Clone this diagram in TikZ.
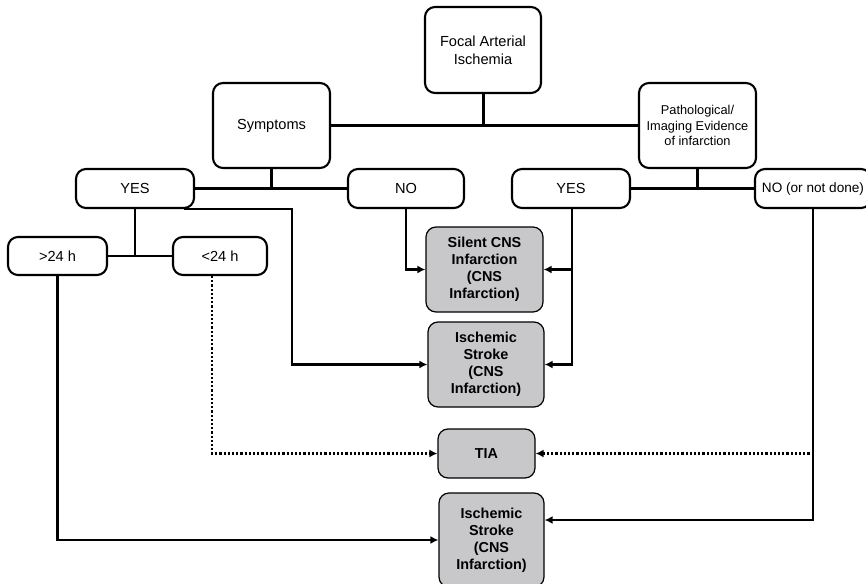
\documentclass[tikz,border=0pt]{standalone}
\usepackage{fontspec}
\setmainfont{Liberation Sans}
\usetikzlibrary{arrows.meta}
\definecolor{boxgrey}{RGB}{200,200,202}
\tikzset{
  box/.style={draw, line width=2.1pt, rounded corners=10pt, align=center,
    inner sep=0pt, font=\fontsize{14.6}{18}\selectfont},
  small box/.style={box, minimum width=118pt, minimum height=39pt},
  result/.style={box, fill=boxgrey, line width=1.2pt,
    font=\bfseries\fontsize{14.4}{17}\selectfont},
  link/.style={line width=2.2pt},
  arr/.style={link, -{Latex[length=8pt,width=8pt]}},
  dotarr/.style={line width=2.5pt, dash pattern=on 2.2pt off 2pt,
    -{Latex[length=8pt,width=8pt]}}
}
\begin{document}
\begin{tikzpicture}[x=1pt,y=-1pt]
  \clip (0,0) rectangle (866,583);
  % top levels
  \node[box, minimum width=116pt, minimum height=86pt] (focal) at (483,50) {Focal Arterial\\Ischemia};
  \node[box, minimum width=117pt, minimum height=85pt] (symptoms) at (271.5,125.5) {Symptoms};
  \node[box, minimum width=117pt, minimum height=85pt,
    font=\fontsize{12.8}{15.5}\selectfont] (patho) at (697.5,125.5) {Pathological/\\Imaging Evidence\\of infarction};
  \node[small box] (yesL) at (135,188.5) {YES};
  \node[small box, minimum width=116pt] (noL) at (406,188.5) {NO};
  \node[small box] (yesR) at (571,188.5) {YES};
  \node[small box, minimum width=116pt, font=\fontsize{13.6}{18}\selectfont] (noR) at (813,188.5) {NO (or not done)};
  \node[box, minimum width=99pt, minimum height=38pt] (gt24) at (57.5,256) {>24 h};
  \node[box, minimum width=94pt, minimum height=38pt] (lt24) at (220,256) {<24 h};
  % outcomes
  \node[result, minimum width=117pt, minimum height=85pt] (silent) at (484.5,269.5) {Silent CNS\\Infarction\\(CNS\\Infarction)};
  \node[result, minimum width=116pt, minimum height=85pt] (stroke1) at (486,364.5) {Ischemic\\Stroke\\(CNS\\Infarction)};
  \node[result, minimum width=97pt, minimum height=49pt] (tia) at (486.5,453.5) {TIA};
  \node[result, minimum width=105pt, minimum height=94pt] (stroke2) at (491.5,540) {Ischemic\\Stroke\\(CNS\\Infarction)};
  \coordinate (turnA) at (292,364.5);

  \draw[line width=3pt] (symptoms.east) -- (patho.west);
  \draw[line width=3pt] (focal.south) -- (focal.south |- symptoms.east);
  \draw[link] (yesL.east) -- (noL.west);
  \draw[link] (symptoms.south) -- (symptoms.south |- yesL.east);
  \draw[link] (yesR.east) -- (noR.west);
  \draw[link] (patho.south) -- (patho.south |- yesR.east);
  \draw[link] (gt24.east) -- (lt24.west);
  \draw[link] (yesL.south) -- (yesL.south |- gt24.east);

  \draw[arr] ([xshift=-11pt]yesL.south east) -| (turnA) -- (stroke1.west);
  \draw[arr] (noL.south) |- (silent.west);
  \draw[arr] ([xshift=1pt]yesR.south) |- (silent.east);
  \draw[arr] ([xshift=1pt]yesR.south) |- (stroke1.east);
  \draw[dotarr] ([xshift=-8pt]lt24.south) |- (tia.west);
  \draw[dotarr] (noR.south) |- (tia.east);
  \draw[arr] (noR.south) |- ([yshift=20pt]stroke2.east);
  \draw[arr] (gt24.south) |- (stroke2.west);
\end{tikzpicture}
\end{document}
